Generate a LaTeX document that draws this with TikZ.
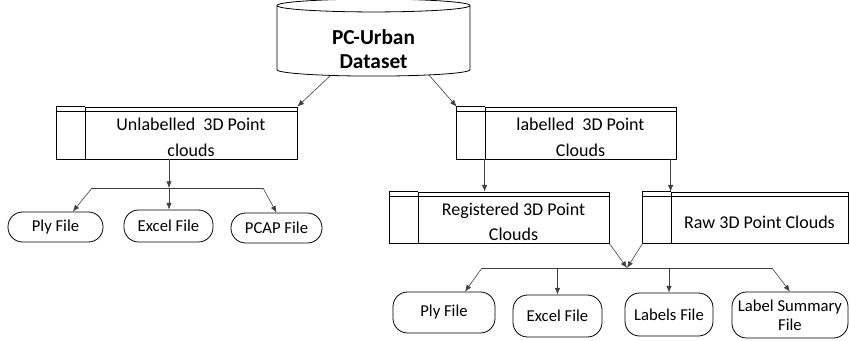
\documentclass[tikz,border=0pt]{standalone}
\usepackage{fontspec}
\setmainfont{Carlito}
\usetikzlibrary{shapes.geometric,arrows.meta,calc}

% extra room above the first text line
\newcommand{\gapabove}[1]{\rule{0pt}{#1}}

\tikzset{
  dbnode/.style={cylinder, shape border rotate=90, draw, line width=0.6pt, aspect=0.155,
    minimum width=144.75pt, minimum height=57.75pt, inner sep=0pt, align=center,
    font=\fontsize{16}{18}\selectfont\bfseries},
  cloudbox/.style={draw, line width=0.6pt, inner sep=0pt, align=center,
    font=\fontsize{13.5}{19}\selectfont},
  filebox/.style={draw, line width=0.6pt, rounded corners=11pt, inner sep=0pt, align=center,
    font=\fontsize{12.5}{14}\selectfont},
  link/.style={-{Latex[length=5pt,width=4pt]}, black!75, line width=0.45pt}
}

\begin{document}
\begin{tikzpicture}[x=0.75pt,y=-0.75pt]
\useasboundingbox (0,0) rectangle (850,340);
% Dataset
\node[dbnode] (ds) at (373.5,41) {\gapabove{24pt}PC-Urban\\Dataset};
% Point cloud boxes (text part, left strip added below)
\node[cloudbox, minimum width=159pt, minimum height=39pt] (unlab) at (191,133) {\gapabove{16pt}Unlabelled~~3D Point\\clouds};
\node[cloudbox, minimum width=143.25pt, minimum height=39pt] (lab) at (580.5,133) {\gapabove{16pt}labelled~~3D Point\\Clouds};
\node[cloudbox, minimum width=143.25pt, minimum height=38.25pt] (reg) at (513.5,217.5) {\gapabove{16pt}Registered 3D Point\\Clouds};
\node[cloudbox, minimum width=132.75pt, minimum height=38.25pt] (raw) at (759.5,217.5) {\gapabove{16pt}Raw 3D Point Clouds};
\foreach \n in {unlab,lab,reg,raw} {
  \draw[line width=0.6pt] (\n.north west) -- ++(-21pt,0) |- (\n.south west);
  \draw[line width=0.6pt] ([shift={(-21pt,-3.75pt)}]\n.north west) -- ([yshift=-3.75pt]\n.north east);
}
% Files of the unlabelled clouds
\node[filebox, minimum width=71.25pt, minimum height=22.5pt] (plyA) at (55.5,227) {Ply File};
\node[filebox, minimum width=66.75pt, minimum height=24pt] (excA) at (168.5,226) {Excel File};
\node[filebox, minimum width=68.25pt, minimum height=22.5pt] (pcapA) at (276.5,228) {PCAP File};
% Files of the labelled clouds
\node[filebox, minimum width=76.5pt, minimum height=30.75pt] (plyB) at (444,312.5) {Ply File};
\node[filebox, minimum width=66.75pt, minimum height=31.5pt] (excB) at (557.5,316) {Excel File};
\node[filebox, minimum width=66pt, minimum height=32.25pt] (lblB) at (669,314.5) {Labels File};
\node[filebox, minimum width=87pt, minimum height=34.5pt] (sumB) at (790,315) {Label Summary\\File};
% Dataset split
\draw[link] ($(ds.south)+(-43,-1)$) -- (unlab.north east);
\draw[link] ($(ds.south)+(55,-2)$) -- ([xshift=-21pt]lab.north west);
% Left tree
\coordinate (jA) at (169,188);
\coordinate (jAl) at (92,188);
\coordinate (jAr) at (263,188);
\draw[link] (jA |- unlab.south) -- (jA);
\draw[black!75, line width=0.45pt] (jAl) -- (jAr);
\draw[link] (jAl) -- ([xshift=13pt]plyA.north);
\draw[link] (jA) -- (jA |- excA.north);
\draw[link] (jAr) -- (pcapA.north);
% Right tree
\draw[link] (lab.south west) -- (lab.south west |- reg.north);
\draw[link] (raw.north west |- lab.south) -- (raw.north west);
\coordinate (jB) at (627,268);
\coordinate (jBl) at (482,268);
\coordinate (jBr) at (772,268);
\draw[link] (reg.south east) -- (jB);
\draw[link] ([xshift=-21pt]raw.south west) -- (jB);
\draw[black!75, line width=0.45pt] (jBl) -- (jBr);
\draw[link] (jBl) -- ([xshift=15.75pt]plyB.north);
\draw[link] (excB.north |- jB) -- (excB.north);
\draw[link] (lblB.north |- jB) -- (lblB.north);
\draw[link] (jBr) -- (sumB.north);
\end{tikzpicture}
\end{document}
